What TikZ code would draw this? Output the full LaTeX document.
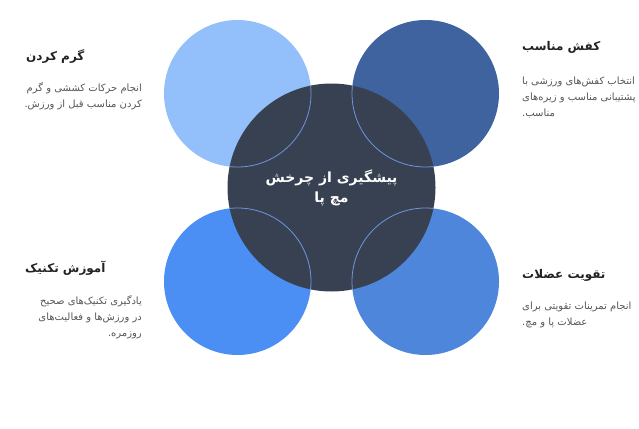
\documentclass[tikz,border=0pt]{standalone}
\usepackage{fontspec}
\usepackage{tikz}
\usetikzlibrary{positioning}
\TeXXeTstate=1
\newfontfamily\farsi[Script=Arabic]{DejaVu Sans}
\definecolor{hubgray}{RGB}{55, 65, 81}
\definecolor{skyblue}{RGB}{147, 191, 250}
\definecolor{navyblue}{RGB}{62, 99, 158}
\definecolor{brightblue}{RGB}{75, 143, 245}
\definecolor{midblue}{RGB}{78, 134, 220}
\definecolor{rimblue}{RGB}{110, 150, 225}
\definecolor{titlegray}{RGB}{34, 34, 34}
\definecolor{descgray}{RGB}{85, 85, 85}
\tikzstyle{petal} = [circle, draw=none, minimum size=147pt, inner sep=0pt]
\tikzstyle{hub} = [circle, fill=hubgray, minimum size=208pt, inner sep=0pt, text=white, align=center, font=\farsi\bfseries\fontsize{14}{20}\selectfont]
\tikzstyle{headline} = [inner sep=0pt, text=titlegray, font=\farsi\bfseries\fontsize{12}{15}\selectfont]
\tikzstyle{blurb} = [inner sep=0pt, text=descgray, font=\farsi\fontsize{10}{16}\selectfont]
\tikzstyle{rim} = [draw=rimblue, line width=0.8pt]

\begin{document}
\begin{tikzpicture}[x=1pt, y=-1pt]
\useasboundingbox (0,0) rectangle (639,428);

% circles =============================
\node[petal, fill=skyblue] (warm) at (237.5,93.5) {};
\node[petal, fill=navyblue] (shoe) at (425.5,93.5) {};
\node[petal, fill=brightblue] (drill) at (237.5,281.5) {};
\node[petal, fill=midblue] (muscle) at (425.5,281.5) {};
\node[hub] (hub) at (331.5,187.5) {\beginR پیشگیری از چرخش\endR\\\beginR مچ پا\endR};

% rims over the hub
\begin{scope}
\clip (hub.center) circle[radius=104pt];
\foreach \p in {warm,shoe,drill,muscle}
  \draw[rim] (\p.center) circle[radius=73.5pt];
\end{scope}

% labels
\node[headline, anchor=west] (warmtitle) at (26,57) {\beginR گرم کردن\endR};
\node[blurb, align=right, anchor=north east] (warmtext) at (142,82) {\beginR انجام حرکات کششی و گرم\endR\\\beginR کردن مناسب قبل از ورزش.\endR};

\node[headline, anchor=west] (drilltitle) at (25,268) {\beginR آموزش تکنیک\endR};
\node[blurb, align=right, anchor=north east] (drilltext) at (142,295) {\beginR یادگیری تکنیک‌های صحیح\endR\\\beginR در ورزش‌ها و فعالیت‌های\endR\\\beginR روزمره.\endR};

\node[headline, anchor=west] (shoetitle) at (522,47) {\beginR کفش مناسب\endR};
\node[blurb, align=left, below=23pt of shoetitle.south west, anchor=north west] (shoetext) {\beginR انتخاب کفش‌های ورزشی با\endR\\\beginR پشتیبانی مناسب و زیره‌های\endR\\\beginR مناسب.\endR};

\node[headline, anchor=west] (muscletitle) at (522,275) {\beginR تقویت عضلات\endR};
\node[blurb, align=left, below=20pt of muscletitle.south west, anchor=north west] (muscletext) {\beginR انجام تمرینات تقویتی برای\endR\\\beginR عضلات پا و مچ.\endR};

\end{tikzpicture}
\end{document}
